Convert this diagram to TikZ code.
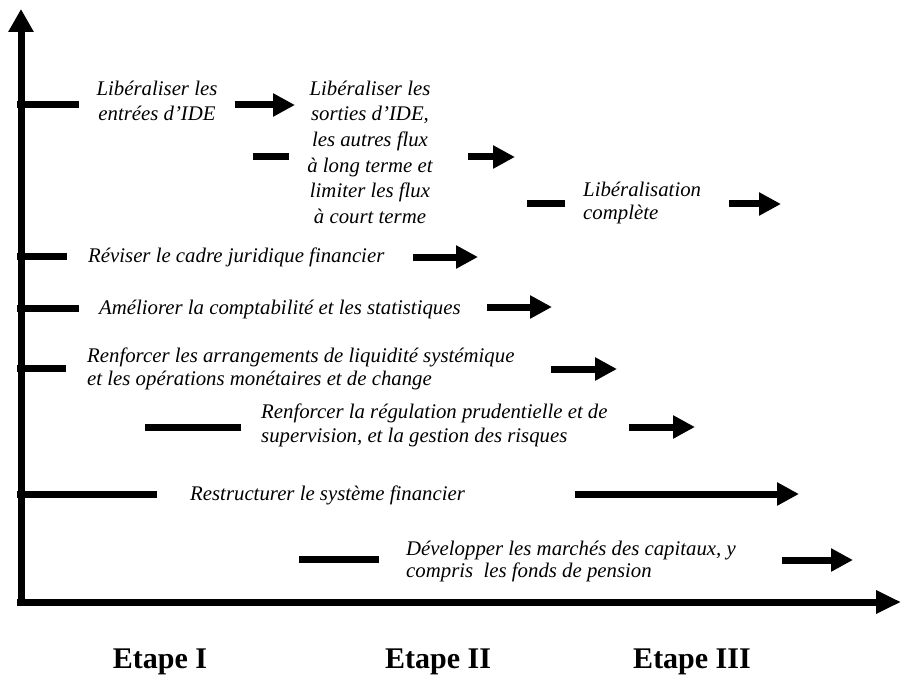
\documentclass[tikz,border=0pt]{standalone}
\usepackage{fontspec}
\setmainfont{Liberation Serif}
\usetikzlibrary{arrows.meta}
\begin{document}
\begin{tikzpicture}[x=1pt,y=-1pt,
  axis/.style={line width=7pt},
  bar/.style={line width=7pt},
  go/.style={line width=7pt,-{Triangle[length=22pt,width=22pt]}},
  lbl/.style={font=\itshape\fontsize{20.8}{25.5}\selectfont, inner sep=0pt},
  stage/.style={font=\bfseries\fontsize{30}{36}\selectfont, inner sep=0pt}]
\useasboundingbox (0,0) rectangle (901,676);

% axes
\coordinate (origin) at (21,602);
\coordinate (ytop) at (21,9);
\coordinate (xend) at (901,602);
\draw[axis,-{Triangle[length=23pt,width=24pt]}] ([yshift=3.5pt]origin) -- (ytop);
\draw[axis,-{Triangle[length=25pt,width=22pt]}] ([xshift=-4pt]origin) -- (xend);

% text blocks (base anchor = baseline of the last line)
\node[lbl, align=center, anchor=base] (ideIn) at (157,121)
  {Libéraliser les\\entrées d’IDE};
\node[lbl, align=center, anchor=base] (ideOut) at (370,223)
  {Libéraliser les\\sorties d’IDE,\\les autres flux\\à long terme et\\limiter les flux\\à court terme};
\node[lbl, align=left, anchor=base west, font=\itshape\fontsize{20.8}{24}\selectfont] (libre) at (583,220)
  {Libéralisation\\complète};
\node[lbl, anchor=base west] (jur) at (88,262)
  {Réviser le cadre juridique financier};
\node[lbl, anchor=base west] (compta) at (99,314)
  {Améliorer la comptabilité et les statistiques};
\node[lbl, align=left, anchor=base west, font=\itshape\fontsize{20.8}{23}\selectfont] (liq) at (87,385)
  {Renforcer les arrangements de liquidité systémique\\et les opérations monétaires et de change};
\node[lbl, align=left, anchor=base west, font=\itshape\fontsize{20.8}{24}\selectfont] (regul) at (261,442)
  {Renforcer la régulation prudentielle et de\\supervision, et la gestion des risques};
\node[lbl, anchor=base west] (restr) at (190,500)
  {Restructurer le système financier};
\node[lbl, align=left, anchor=base west, font=\itshape\fontsize{20.8}{22}\selectfont] (cap) at (406,577)
  {Développer les marchés des capitaux, y\\compris \ les fonds de pension};

% stages
\node[stage, anchor=base] (s1) at (160,668.5) {Etape I};
\node[stage, anchor=base] (s2) at (438,668.5) {Etape II};
\node[stage, anchor=base] (s3) at (692,668.5) {Etape III};

% bars and arrows
\draw[bar] (17,105) -- (79,105);
\draw[go]  (235,105) -- (295,105);
\draw[bar] (253,157) -- (289,157);
\draw[go]  (468,157) -- (515,157);
\draw[bar] (527,204) -- (565,204);
\draw[go]  (729,204) -- (781,204);
\draw[bar] (17,256) -- (67,256);
\draw[go]  (413,257) -- (478,257);
\draw[bar] (17,308) -- (79,308);
\draw[go]  (487,307) -- (552,307);
\draw[bar] (17,368) -- (66,368);
\draw[go]  (551,369) -- (617,369);
\draw[bar] (145,427) -- (241,427);
\draw[go]  (629,427) -- (695,427);
\draw[bar] (17,494) -- (157,494);
\draw[go]  (575,494) -- (799,494);
\draw[bar] (299,559) -- (379,559);
\draw[go]  (782,560) -- (853,560);
\end{tikzpicture}
\end{document}
